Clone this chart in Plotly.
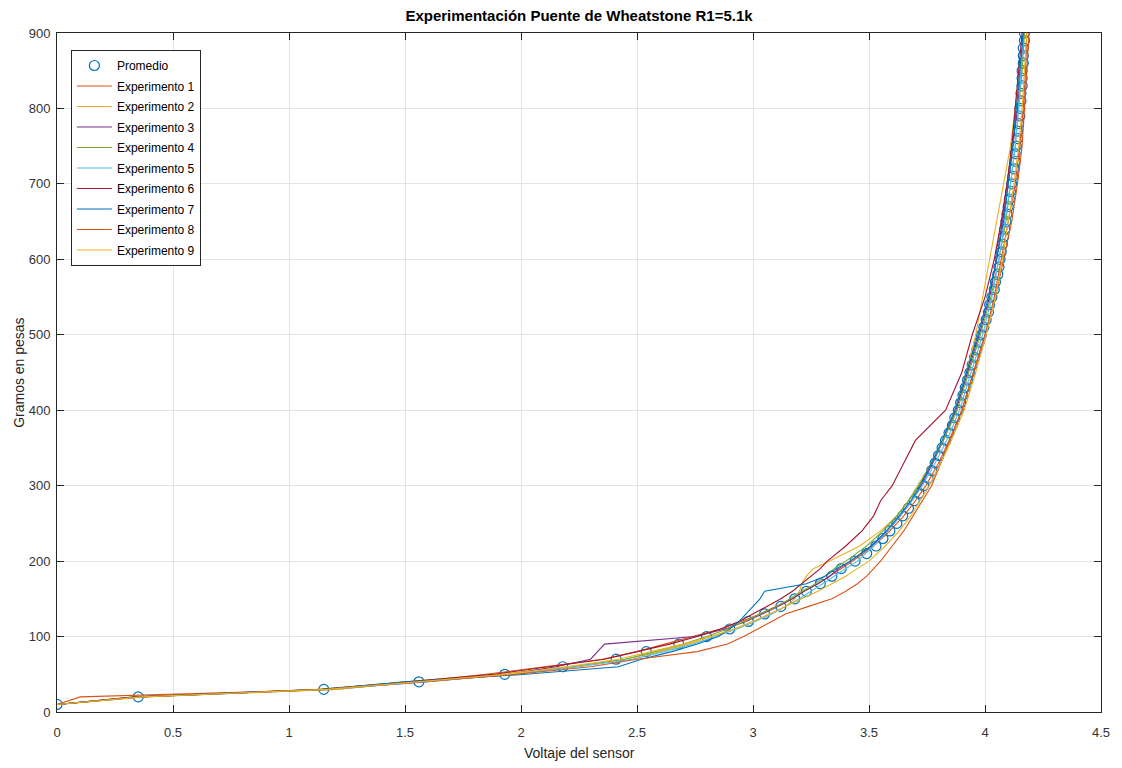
import plotly.graph_objects as go

# ---------------- data ----------------
prom_g = list(range(10, 901, 10))
prom_v = [0.00, 0.35, 1.15, 1.56, 1.93, 2.18, 2.41, 2.54, 2.68, 2.80,
          2.90, 2.98, 3.05, 3.12, 3.18, 3.23, 3.29, 3.34, 3.38, 3.44,
          3.49, 3.53, 3.56, 3.59, 3.62, 3.645, 3.67, 3.695, 3.715, 3.735,
          3.755, 3.77, 3.785, 3.80, 3.815, 3.83, 3.845, 3.86, 3.87, 3.885,
          3.895, 3.905, 3.915, 3.925, 3.935, 3.945, 3.955, 3.965, 3.975, 3.985,
          3.995, 4.005, 4.015, 4.02, 4.03, 4.04, 4.045, 4.055, 4.06, 4.065,
          4.07, 4.075, 4.08, 4.085, 4.09, 4.095, 4.10, 4.105, 4.11, 4.115,
          4.12, 4.125, 4.13, 4.13, 4.135, 4.14, 4.14, 4.145, 4.15, 4.15,
          4.155, 4.155, 4.16, 4.16, 4.16, 4.165, 4.165, 4.165, 4.17, 4.17]

exp_g = [10, 20, 30, 40, 50, 60, 70, 80, 90, 100, 110, 120, 130, 140, 150,
         160, 170, 180, 190, 200, 220, 240, 260, 280, 300, 330, 360, 400,
         450, 500, 550, 600, 650, 700, 750, 800, 850, 900]

exp1 = [0.00, 0.10, 1.20, 1.55, 1.85, 2.10, 2.35, 2.50, 2.62, 2.75, 2.86, 2.95,
        3.03, 3.10, 3.17, 3.22, 3.28, 3.33, 3.38, 3.43, 3.52, 3.59, 3.65, 3.70,
        3.745, 3.80, 3.845, 3.90, 3.95, 4.00, 4.045, 4.08, 4.115, 4.14, 4.16,
        4.17, 4.18, 4.19]
exp2 = [0.00, 0.38, 1.20, 1.50, 1.90, 2.20, 2.45, 2.60, 2.72, 2.82, 2.92, 3.00,
        3.08, 3.14, 3.18, 3.20, 3.21, 3.23, 3.26, 3.33, 3.46, 3.55, 3.62, 3.67,
        3.71, 3.77, 3.82, 3.87, 3.92, 3.96, 3.99, 4.02, 4.05, 4.08, 4.11, 4.13,
        4.15, 4.17]
exp3 = [0.00, 0.35, 1.15, 1.60, 1.95, 2.15, 2.30, 2.33, 2.36, 2.75, 2.88, 2.97,
        3.04, 3.11, 3.17, 3.22, 3.28, 3.33, 3.37, 3.42, 3.51, 3.58, 3.635, 3.685,
        3.725, 3.775, 3.82, 3.875, 3.925, 3.975, 4.02, 4.05, 4.075, 4.10, 4.12,
        4.14, 4.155, 4.165]
exp4 = [0.00, 0.33, 1.12, 1.55, 1.95, 2.22, 2.45, 2.58, 2.70, 2.80, 2.89, 2.96,
        3.03, 3.10, 3.16, 3.21, 3.27, 3.31, 3.35, 3.40, 3.49, 3.56, 3.62, 3.67,
        3.715, 3.77, 3.82, 3.88, 3.93, 3.98, 4.025, 4.06, 4.09, 4.11, 4.13,
        4.145, 4.16, 4.17]
exp5 = [0.00, 0.36, 1.18, 1.58, 1.97, 2.25, 2.48, 2.62, 2.74, 2.84, 2.93, 3.01,
        3.08, 3.14, 3.20, 3.25, 3.30, 3.35, 3.40, 3.45, 3.52, 3.58, 3.635, 3.685,
        3.73, 3.785, 3.835, 3.89, 3.94, 3.99, 4.03, 4.06, 4.085, 4.11, 4.13,
        4.145, 4.155, 4.165]
exp6 = [0.00, 0.34, 1.14, 1.52, 1.88, 2.12, 2.36, 2.50, 2.64, 2.76, 2.86, 2.94,
        3.00, 3.06, 3.12, 3.17, 3.21, 3.25, 3.29, 3.32, 3.40, 3.47, 3.52, 3.55,
        3.60, 3.65, 3.70, 3.83, 3.90, 3.945, 4.00, 4.04, 4.07, 4.095, 4.115,
        4.13, 4.145, 4.16]
exp7 = [0.00, 0.35, 1.15, 1.50, 2.02, 2.42, 2.52, 2.65, 2.76, 2.85, 2.90, 2.94,
        2.97, 3.00, 3.03, 3.05, 3.23, 3.31, 3.36, 3.42, 3.51, 3.575, 3.63, 3.68,
        3.72, 3.77, 3.815, 3.87, 3.92, 3.97, 4.015, 4.05, 4.08, 4.10, 4.12,
        4.135, 4.15, 4.165]
exp8 = [0.00, 0.36, 1.16, 1.58, 1.98, 2.30, 2.50, 2.76, 2.89, 2.96, 3.02, 3.08,
        3.14, 3.24, 3.34, 3.40, 3.45, 3.49, 3.52, 3.55, 3.60, 3.65, 3.69, 3.73,
        3.77, 3.81, 3.85, 3.90, 3.95, 4.00, 4.04, 4.07, 4.10, 4.13, 4.15,
        4.165, 4.175, 4.18]
exp9 = [0.00, 0.37, 1.17, 1.57, 1.94, 2.20, 2.42, 2.56, 2.70, 2.82, 2.92, 3.00,
        3.07, 3.14, 3.21, 3.28, 3.34, 3.40, 3.45, 3.50, 3.57, 3.63, 3.68, 3.72,
        3.76, 3.81, 3.855, 3.91, 3.96, 4.005, 4.045, 4.075, 4.10, 4.125, 4.145,
        4.16, 4.17, 4.18]

exp_names = ["Experimento 1", "Experimento 2", "Experimento 3", "Experimento 4",
             "Experimento 5", "Experimento 6", "Experimento 7", "Experimento 8",
             "Experimento 9"]
exp_series = [exp1, exp2, exp3, exp4, exp5, exp6, exp7, exp8, exp9]
exp_colors = ["#D95319", "#EDB120", "#7E2F8E", "#77AC30", "#4DBEEE",
              "#A2142F", "#0072BD", "#D95319", "#EDB120"]

x_ticks = [0, 0.5, 1, 1.5, 2, 2.5, 3, 3.5, 4, 4.5]
y_ticks = [0, 100, 200, 300, 400, 500, 600, 700, 800, 900]

# ---------------- figure ----------------
FONT = "Liberation Sans, Arial, sans-serif"
fig = go.Figure()

fig.add_trace(go.Scatter(
    x=prom_v, y=prom_g, mode="markers", name="Promedio", legendgroup="p",
    marker=dict(symbol="circle-open", size=10, color="#0072BD",
                line=dict(width=1.2, color="#0072BD")),
))
for i, (name, vals, col) in enumerate(zip(exp_names, exp_series, exp_colors)):
    fig.add_trace(go.Scatter(
        x=vals, y=exp_g, mode="lines", name=name, legendgroup=f"e{i}",
        line=dict(color=col, width=1.1),
    ))

axis_common = dict(
    showgrid=True, gridcolor="#e3e3e3", gridwidth=1,
    showline=True, linecolor="#262626", linewidth=1, mirror="ticks",
    ticks="inside", ticklen=7, tickcolor="#262626",
    zeroline=False,
    tickfont=dict(family=FONT, size=13, color="#333333"),
)

fig.update_layout(
    width=1122, height=768,
    margin=dict(l=57, r=12, t=33, b=56),
    paper_bgcolor="white", plot_bgcolor="white",
    title=dict(text="<b>Experimentación Puente de Wheatstone R1=5.1k</b>",
               x=0.5, xanchor="center", xref="paper",
               y=0.979, yanchor="middle", yref="container",
               font=dict(family=FONT, size=15, color="#000000")),
    xaxis=dict(range=[0, 4.5], tickvals=x_ticks, ticklabelstandoff=8,
               ticktext=[str(t) for t in x_ticks], **axis_common),
    yaxis=dict(range=[0, 900], tickvals=y_ticks, ticklabelstandoff=3,
               ticktext=[str(t) for t in y_ticks], **axis_common),
    legend=dict(x=0.0133, y=0.975, xanchor="left", yanchor="top",
                bgcolor="white", bordercolor="#262626", borderwidth=1,
                font=dict(family=FONT, size=12, color="#000000"),
                itemwidth=35, tracegroupgap=1.5),
    showlegend=True,
    annotations=[
        dict(text="Voltaje del sensor", xref="paper", yref="paper",
             x=0.5, y=-0.061, xanchor="center", yanchor="middle",
             showarrow=False, font=dict(family=FONT, size=14, color="#262626")),
        dict(text="Gramos en pesas", xref="paper", yref="paper",
             x=-0.037, y=0.5, xanchor="center", yanchor="middle", textangle=-90,
             showarrow=False, font=dict(family=FONT, size=14, color="#262626")),
    ],
)

fig.write_html("out.html")
